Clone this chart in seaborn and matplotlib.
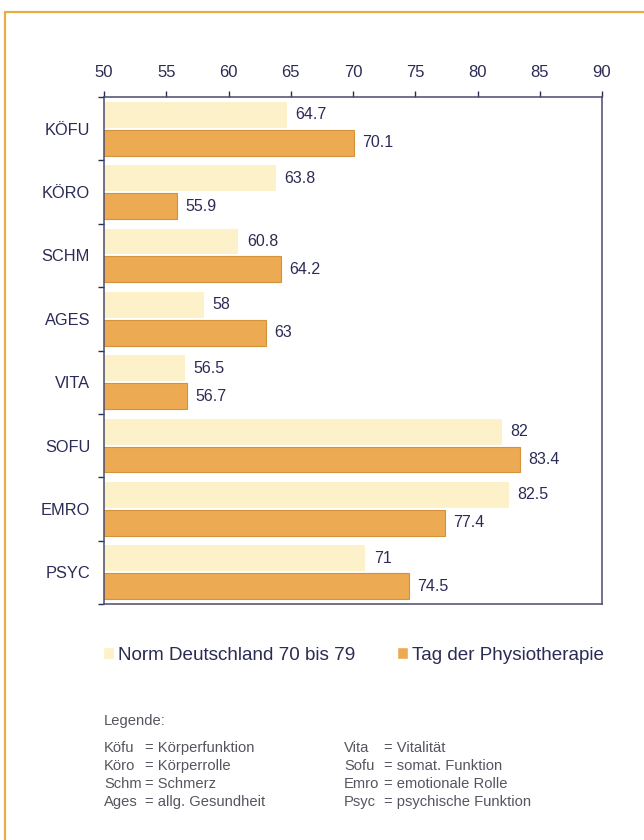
import matplotlib
matplotlib.use("Agg")
import matplotlib.pyplot as plt
import seaborn as sns
import pandas as pd
from matplotlib.patches import Rectangle

categories = ["KÖFU", "KÖRO", "SCHM", "AGES", "VITA", "SOFU", "EMRO", "PSYC"]
norm_values = [64.7, 63.8, 60.8, 58, 56.5, 82, 82.5, 71]
tag_values = [70.1, 55.9, 64.2, 63, 56.7, 83.4, 77.4, 74.5]
series_names = ["Norm Deutschland 70 bis 79", "Tag der Physiotherapie"]
x_ticks = [50, 55, 60, 65, 70, 75, 80, 85, 90]
legend_left = [("Köfu", "= Körperfunktion"), ("Köro", "= Körperrolle"),
               ("Schm", "= Schmerz"), ("Ages", "= allg. Gesundheit")]
legend_right = [("Vita", "= Vitalität"), ("Sofu", "= somat. Funktion"),
                ("Emro", "= emotionale Rolle"), ("Psyc", "= psychische Funktion")]

navy = "#2b2b55"
light = "#fcf1c8"
dark = "#ecaa52"
dark_edge = "#d4923a"

sns.set_theme(style="white")
plt.rcParams["font.family"] = ["Liberation Sans", "DejaVu Sans"]

df = pd.DataFrame({
    "cat": categories * 2,
    "val": norm_values + tag_values,
    "series": [series_names[0]] * len(categories) + [series_names[1]] * len(categories),
})

W, H = 644, 840
fig = plt.figure(figsize=(6.44, 8.4), dpi=100)
ax = fig.add_axes([104 / W, 1 - 604 / H, (602 - 104) / W, (604 - 97) / H])

sns.barplot(data=df, y="cat", x="val", hue="series", orient="h",
            palette=[light, dark], width=0.88, gap=0.07, ax=ax,
            saturation=1, legend=True)

for i, cont in enumerate(ax.containers):
    for p in cont.patches:
        if i == 0:
            p.set_linewidth(0)
        else:
            p.set_edgecolor(dark_edge)
            p.set_linewidth(0.8)
    vals = norm_values if i == 0 else tag_values
    ax.bar_label(cont, labels=[f"{v:g}" for v in vals], padding=6,
                 fontsize=11.5, color=navy)

ax.set_xlim(50, 90)
ax.set_ylim(7.5, -0.5)
ax.set_xlabel("")
ax.set_ylabel("")
ax.xaxis.tick_top()
ax.set_xticks(x_ticks)
ax.set_xticklabels([str(t) for t in x_ticks])
ax.tick_params(axis="x", which="major", direction="out", length=4, width=1,
               color=navy, labelsize=12, labelcolor=navy, pad=8,
               top=True, bottom=False)
ax.set_yticks(range(len(categories)))
ax.set_yticklabels(categories)
ax.set_yticks([k - 0.5 for k in range(len(categories) + 1)], minor=True)
ax.tick_params(axis="y", which="major", length=0, labelsize=11.8,
               labelcolor=navy, pad=10)
ax.tick_params(axis="y", which="minor", left=True, length=4, width=1,
               color=navy, direction="out")
for s in ax.spines.values():
    s.set_visible(True)
    s.set_color("#4a4a6e")
    s.set_linewidth(1.1)

handles, labels = ax.get_legend_handles_labels()
ax.get_legend().remove()
leg_x = [103 / W, 397 / W]
for h, l, x in zip(handles, labels, leg_x):
    fig.legend([h], [l], loc="center left", bbox_to_anchor=(x, 1 - 655 / H),
               frameon=False, fontsize=13.6, labelcolor=navy,
               handlelength=0.6, handleheight=0.6, handletextpad=0.2,
               borderpad=0, borderaxespad=0)

grey = "#555560"
fs = 10.6
fig.text(104 / W, 1 - 721 / H, "Legende:", fontsize=fs, color=grey, va="center")
ys = [748, 766, 784, 802]
for (a, b), y in zip(legend_left, ys):
    fig.text(104 / W, 1 - y / H, a, fontsize=fs, color=grey, va="center")
    fig.text(145 / W, 1 - y / H, b, fontsize=fs, color=grey, va="center")
for (a, b), y in zip(legend_right, ys):
    fig.text(344 / W, 1 - y / H, a, fontsize=fs, color=grey, va="center")
    fig.text(384 / W, 1 - y / H, b, fontsize=fs, color=grey, va="center")

fig.patches.append(Rectangle((5 / W, -0.01), 1.0, 1 - 12 / H + 0.01,
                             transform=fig.transFigure, fill=False,
                             edgecolor="#e6ad45", linewidth=1.6, zorder=0))

fig.savefig("out.png", dpi=100)
